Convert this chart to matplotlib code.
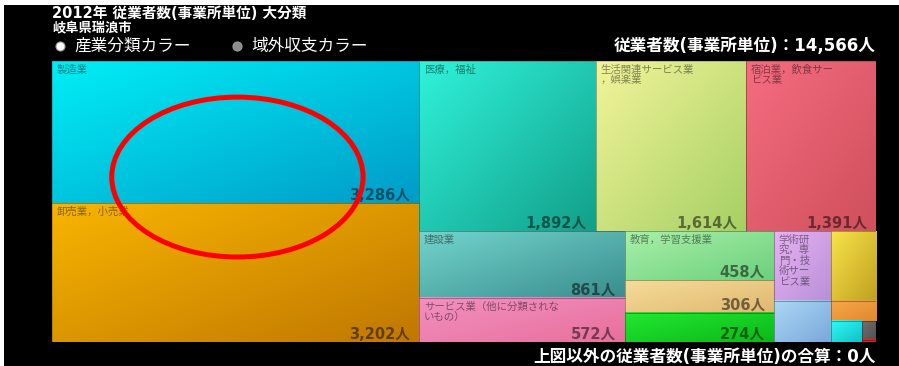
import numpy as np
import matplotlib
matplotlib.use("Agg")
import matplotlib.pyplot as plt
from matplotlib.patches import Rectangle, Ellipse
from matplotlib.lines import Line2D

# wide latin digits from DejaVu, kanji/kana from Noto CJK
plt.rcParams['font.family'] = ['DejaVu Sans', 'Noto Sans CJK JP']
CJK_FIRST = ['Noto Sans CJK JP', 'DejaVu Sans']

# 2012 employees by industry (事業所単位), 岐阜県瑞浪市
names = [
    "製造業",
    "卸売業，小売業",
    "医療，福祉",
    "生活関連サービス業\n，娯楽業",
    "宿泊業，飲食サー\nビス業",
    "建設業",
    "サービス業（他に分類されな\nいもの）",
    "教育，学習支援業",
    "",
    "",
    "学術研\n究，専\n門・技\n術サー\nビス業",
    "",
    "",
    "",
    "",
    "",
    "",
]
values = [3286, 3202, 1892, 1614, 1391, 861, 572, 458, 306, 274, 248, 196, 148, 58, 42, 16, 2]

# gradient colours of each cell: top-left / bottom-right
color_top = ["#00eef6", "#f8b400", "#30f2da", "#f2f49a", "#f46c80", "#72d4cc", "#f290c0",
             "#a8f0a8", "#f4dc98", "#22e830", "#e8b2f2", "#f8e448", "#aad8f4", "#f8a848",
             "#30faf4", "#707070", "#e82020"]
color_bottom = ["#009cc8", "#c07800", "#12a08a", "#a6d064", "#d0505c", "#3a8e8e", "#e8709c",
                "#6cd07c", "#e0b870", "#0cb818", "#b890d8", "#c0a020", "#7ca8dc", "#e08830",
                "#10c0c8", "#505050", "#e02020"]

title = "2012年 従業者数(事業所単位) 大分類"
subtitle = "岐阜県瑞浪市"
legend_labels = ["産業分類カラー", "域外収支カラー"]
legend_dots = ["white", "#8c8c8c"]
other_value = 0

GOLDEN = (1 + 5 ** 0.5) / 2
LAYOUT_W = 1.6  # the page laid the treemap out at this aspect, then stretched it


def squarify(vals, x0, y0, x1, y1, ratio=GOLDEN):
    """d3-style squarified layout, returns (x, y, w, h) per value."""
    rects = []
    total = float(sum(vals))
    i0, n = 0, len(vals)
    while i0 < n:
        dx, dy = x1 - x0, y1 - y0
        s = vals[i0]
        vmin = vmax = s
        i1 = i0 + 1
        alpha = max(dy / dx, dx / dy) / (total * ratio)
        beta = s * s * alpha
        best = max(vmax / beta, beta / vmin)
        while i1 < n:
            v = vals[i1]
            s2 = s + v
            mn, mx = min(vmin, v), max(vmax, v)
            beta = s2 * s2 * alpha
            r = max(mx / beta, beta / mn)
            if r > best:
                break
            s, vmin, vmax, best = s2, mn, mx, r
            i1 += 1
        row = vals[i0:i1]
        if dx < dy:
            yb = y0 + dy * s / total
            xx = x0
            for v in row:
                w = dx * v / s
                rects.append((xx, y0, w, yb - y0))
                xx += w
            y0 = yb
        else:
            xb = x0 + dx * s / total
            yy = y0
            for v in row:
                h = dy * v / s
                rects.append((x0, yy, xb - x0, h))
                yy += h
            x0 = xb
        total -= s
        i0 = i1
    return rects


fig = plt.figure(figsize=(8.99, 3.66), dpi=100, facecolor='white')
fig.add_artist(Rectangle((4 / 899, 0), 1, 1 - 5 / 366, transform=fig.transFigure,
                         facecolor='black', edgecolor='none', zorder=0))

ax = fig.add_axes([52 / 899, 24 / 366, 824 / 899, 281 / 366])
ax.set_axis_off()

rects = squarify(values, 0, 0, LAYOUT_W, 1)

g = np.linspace(0, 1, 32)
gx, gy = np.meshgrid(g, g)
t = ((gx + gy) / 2)[..., None]

px_per_x = 824 / LAYOUT_W
px_per_y = 281

for (x, y, w, h), name, v, ct, cb in zip(rects, names, values, color_top, color_bottom):
    c0 = np.array(matplotlib.colors.to_rgb(ct))
    c1 = np.array(matplotlib.colors.to_rgb(cb))
    img = c0 * (1 - t) + c1 * t
    ax.imshow(img, extent=(x, x + w, y + h, y), interpolation='bilinear',
              aspect='auto', zorder=1)
    ax.add_patch(Rectangle((x, y), w, h, facecolor='none', edgecolor=(0, 0, 0, 0.2),
                           lw=0.6, zorder=2))
    if name:
        ax.annotate(name, xy=(x, y), xytext=(3.5, -2.5), textcoords='offset points',
                    ha='left', va='top', fontsize=7.5, color='black', alpha=0.45,
                    family=CJK_FIRST, linespacing=1.05, zorder=3)
    if w * px_per_x > 100 and h * px_per_y > 25:
        ax.annotate(f"{v:,}人", xy=(x + w, y + h), xytext=(-6.5, 2.5), textcoords='offset points',
                    ha='right', va='baseline', fontsize=10.5, fontweight='bold',
                    color='black', alpha=0.5, zorder=3)

ax.set_xlim(0, LAYOUT_W)
ax.set_ylim(1, 0)

# red highlight drawn over the chart
ax.add_patch(Ellipse((0.225, 0.587), 0.305, 0.569, transform=ax.transAxes, fill=False,
                     edgecolor='#ff0000', lw=3.6, zorder=5, clip_on=False))

fig.text(52 / 899, 1 - 13 / 366, title, color='white', fontsize=10.5, fontweight='bold',
         ha='left', va='center')
fig.text(52 / 899, 1 - 28 / 366, subtitle, color='white', fontsize=9.5, fontweight='bold',
         ha='left', va='center')

for lx, lab, dot in zip([60, 237], legend_labels, legend_dots):
    fig.add_artist(Line2D([lx / 899], [1 - 46 / 366], marker='o', ms=6.5, mfc=dot,
                          mec='#9a9a9a', mew=0.8, transform=fig.transFigure))
    fig.text((lx + 14) / 899, 1 - 46 / 366, lab, color='white', fontsize=12,
             ha='left', va='center')

fig.text(876 / 899, 1 - 46 / 366, f"従業者数(事業所単位)：{sum(values):,}人", color='white',
         fontsize=12, fontweight='bold', ha='right', va='center')
fig.text(876 / 899, 1 - 357 / 366, f"上図以外の従業者数(事業所単位)の合算：{other_value}人",
         color='white', fontsize=12, fontweight='bold', ha='right', va='center')

fig.savefig("out.png", dpi=100, facecolor=fig.get_facecolor())
